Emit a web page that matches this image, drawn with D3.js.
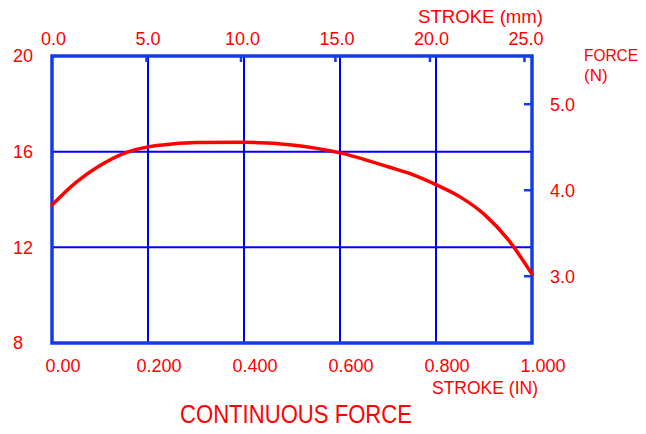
<!DOCTYPE html>
<html><head><meta charset="utf-8">
<script src="https://cdn.jsdelivr.net/npm/d3@7"></script>
<style>
html,body{margin:0;padding:0;background:#fff;}
svg{display:block;}
text{font-family:"Liberation Sans",Arial,sans-serif;fill:#ff0000;}
</style></head>
<body>
<svg id="c" width="646" height="434"></svg>
<script>
// Data
const strokeIn = [0, 0.05, 0.1, 0.15, 0.2, 0.25, 0.3, 0.4, 0.5, 0.6, 0.7, 0.75, 0.8, 0.85, 0.9, 0.95, 1.0];
const forceOz  = [13.77, 14.72, 15.42, 15.93, 16.2, 16.32, 16.38, 16.39, 16.28, 15.95, 15.37, 15.05, 14.62, 14.11, 13.39, 12.33, 10.88];
const bottomTicks = [0, 0.2, 0.4, 0.6, 0.8, 1.0];
const bottomLabels = ["0.00", "0.200", "0.400", "0.600", "0.800", "1.000"];
const topTicksMm = [0, 5, 10, 15, 20, 25];
const topLabels = ["0.0", "5.0", "10.0", "15.0", "20.0", "25.0"];
const leftTicks = [8, 12, 16, 20];
const rightTicksN = [3, 4, 5];
const rightLabels = ["3.0", "4.0", "5.0"];
const OZ_PER_N = 3.5969;
const MM_PER_IN = 25.4;

const svg = d3.select("#c");
const L = 52, R = 532, T = 56, B = 343;
const x = d3.scaleLinear().domain([0, 1]).range([L, R]);
const xmm = d3.scaleLinear().domain([0, MM_PER_IN]).range([L, R]);
const y = d3.scaleLinear().domain([8, 20]).range([B, T]);
const yN = d3.scaleLinear().domain([8 / OZ_PER_N, 20 / OZ_PER_N]).range([B, T]);

const gridColor = "#0000ff", frameColor = "#143ce6";

// grid
const g = svg.append("g");
g.selectAll(".vg").data(bottomTicks.slice(1, -1)).join("line")
  .attr("x1", d => x(d)).attr("x2", d => x(d)).attr("y1", T).attr("y2", B)
  .attr("stroke", gridColor).attr("stroke-width", 2);
g.selectAll(".hg").data(leftTicks.slice(1, -1)).join("line")
  .attr("y1", d => y(d)).attr("y2", d => y(d)).attr("x1", L).attr("x2", R)
  .attr("stroke", gridColor).attr("stroke-width", 2);

// top ticks (mm)
g.selectAll(".tt").data(topTicksMm.slice(1)).join("line")
  .attr("x1", d => xmm(d)).attr("x2", d => xmm(d)).attr("y1", T).attr("y2", T + 6)
  .attr("stroke", frameColor).attr("stroke-width", 2.5);
// right ticks (N)
g.selectAll(".rt").data(rightTicksN).join("line")
  .attr("y1", d => yN(d)).attr("y2", d => yN(d)).attr("x1", R - 8).attr("x2", R)
  .attr("stroke", frameColor).attr("stroke-width", 2.5);

// frame
svg.append("rect").attr("x", L).attr("y", T).attr("width", R - L).attr("height", B - T)
  .attr("fill", "none").attr("stroke", frameColor).attr("stroke-width", 3.5);

// curve
const line = d3.line().x((d, i) => x(strokeIn[i])).y(d => y(d)).curve(d3.curveMonotoneX);
svg.append("path").datum(forceOz).attr("d", line)
  .attr("fill", "none").attr("stroke", "#ff0000").attr("stroke-width", 3.5)
  .attr("stroke-linejoin", "round").attr("stroke-linecap", "round");

// bottom axis labels
const xb = d3.axisBottom(x).tickValues(bottomTicks).tickSize(0).tickPadding(0)
  .tickFormat((d, i) => bottomLabels[i]);
const gb = svg.append("g").attr("transform", `translate(0,${B})`).call(xb);
gb.select(".domain").remove();
gb.selectAll("text").attr("dy", null).attr("y", 29).attr("dx", 10.5)
  .style("font-size", "18px").attr("fill", "#ff0000");

// top axis labels
const xt = d3.axisTop(xmm).tickValues(topTicksMm).tickSize(0).tickPadding(0)
  .tickFormat((d, i) => topLabels[i]);
const gt = svg.append("g").attr("transform", `translate(0,${T})`).call(xt);
gt.select(".domain").remove();
gt.selectAll("text").attr("y", -11).attr("dx", 1)
  .style("font-size", "18px").attr("fill", "#ff0000");

// left labels
svg.selectAll(".ll").data(leftTicks).join("text")
  .attr("x", 13).attr("y", d => y(d)).attr("dy", "0.36em")
  .style("font-size", "18px").text(d => d);

// right labels
svg.selectAll(".rl").data(rightTicksN).join("text")
  .attr("x", 550).attr("y", d => yN(d)).attr("dy", "0.36em")
  .style("font-size", "18px").text((d, i) => rightLabels[i]);

// axis titles
svg.append("text").attr("x", 418).attr("y", 23).style("font-size", "18px")
  .attr("textLength", 125).attr("lengthAdjust", "spacingAndGlyphs").text("STROKE  (mm)");
svg.append("text").attr("x", 584).attr("y", 61).style("font-size", "17px")
  .attr("textLength", 54).attr("lengthAdjust", "spacingAndGlyphs").text("FORCE");
svg.append("text").attr("x", 584).attr("y", 81).style("font-size", "17px").text("(N)");
svg.append("text").attr("x", 432).attr("y", 394).style("font-size", "18px")
  .attr("textLength", 106).attr("lengthAdjust", "spacingAndGlyphs").text("STROKE  (IN)");
svg.append("text").attr("x", 180).attr("y", 423).style("font-size", "26px")
  .attr("textLength", 232).attr("lengthAdjust", "spacingAndGlyphs").text("CONTINUOUS FORCE");
</script>
</body></html>
